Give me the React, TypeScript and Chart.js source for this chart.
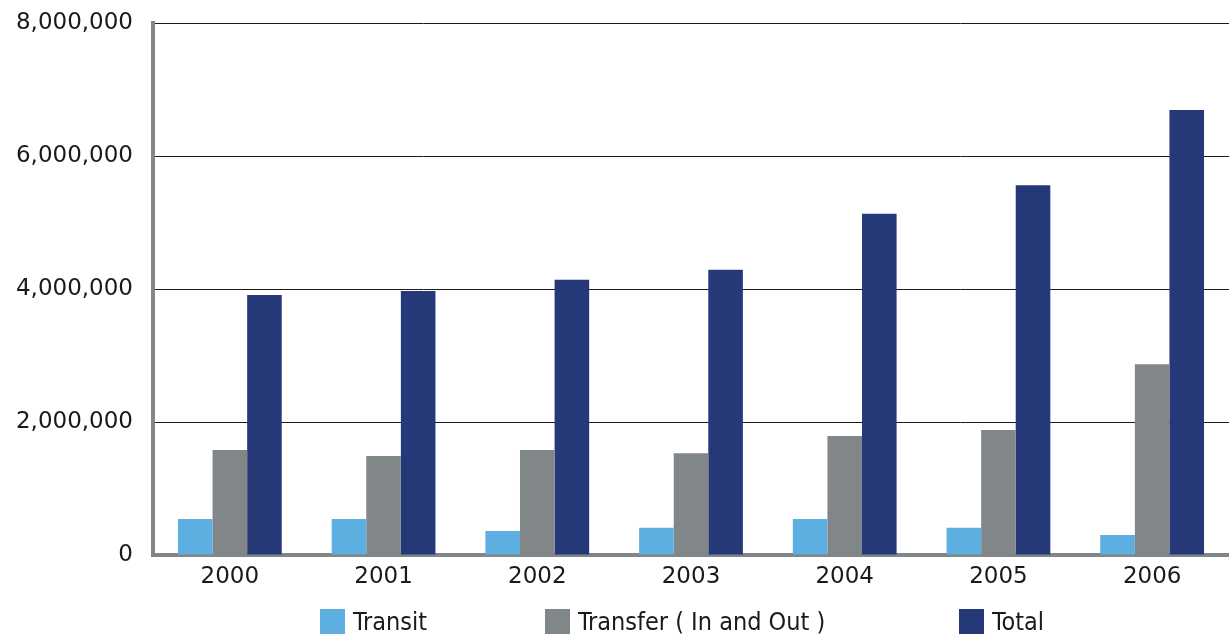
import React, { useEffect, useRef } from "react";
import { Chart, registerables } from "chart.js";

Chart.register(...registerables);

const years = ["2000", "2001", "2002", "2003", "2004", "2005", "2006"];
const transit = [540000, 540000, 360000, 410000, 540000, 410000, 300000];
const transfer = [1580000, 1490000, 1580000, 1530000, 1790000, 1880000, 2870000];
const total = [3910000, 3970000, 4140000, 4290000, 5130000, 5560000, 6690000];
const seriesNames = ["Transit", "Transfer ( In and Out )", "Total"];
const seriesColors = ["#5DAEE1", "#818688", "#253978"];
const yTicks = [0, 2000000, 4000000, 6000000, 8000000];

const W = 1229;
const H = 636;

export default function App() {
  const ref = useRef<HTMLCanvasElement | null>(null);

  useEffect(() => {
    if (!ref.current) return;
    const chart = new Chart(ref.current, {
      type: "bar",
      data: {
        labels: years,
        datasets: [transit, transfer, total].map((d, i) => ({
          label: seriesNames[i],
          data: d,
          backgroundColor: seriesColors[i],
          borderWidth: 0,
          categoryPercentage: 0.675,
          barPercentage: 1,
        })),
      },
      options: {
        responsive: false,
        animation: false,
        devicePixelRatio: 1,
        layout: { padding: { top: 23, right: 0, left: 0, bottom: 0 } },
        plugins: { legend: { display: false }, tooltip: { enabled: false } },
        scales: {
          x: {
            grid: { display: false, drawTicks: false },
            border: { display: true, color: "#818688", width: 4 },
            ticks: {
              color: "#1a1a1a",
              font: { family: "DejaVu Sans", size: 23 },
              padding: 8,
            },
            afterFit: (s: any) => {
              s.height = 81;
            },
          },
          y: {
            min: 0,
            max: 8000000,
            afterBuildTicks: (s: any) => {
              s.ticks = yTicks.map((v) => ({ value: v }));
            },
            grid: { color: "#1a1a1a", lineWidth: 1, drawTicks: false },
            border: { display: true, color: "#818688", width: 4 },
            ticks: {
              color: "#1a1a1a",
              font: { family: "DejaVu Sans", size: 23 },
              padding: 20,
              callback: (v: any) => Number(v).toLocaleString("en-US"),
            },
            afterFit: (s: any) => {
              s.width = 153;
              s.paddingTop = 0;
              s.paddingBottom = 0;
            },
          },
        },
      },
    });
    return () => chart.destroy();
  }, []);

  const legendX = [320, 545, 959];

  return (
    <div style={{ position: "fixed", left: 0, top: 0, width: W, height: H, background: "#fff" }}>
      <canvas ref={ref} width={W} height={H} style={{ display: "block", width: W, height: H }} />
      {seriesNames.map((n, i) => (
        <div
          key={n}
          style={{
            position: "absolute",
            left: legendX[i],
            top: 607,
            display: "flex",
            alignItems: "center",
            fontFamily: "'DejaVu Sans Condensed', 'Liberation Sans Narrow', sans-serif",
            fontSize: 25,
            color: "#1a1a1a",
            whiteSpace: "nowrap",
          }}
        >
          <span
            style={{
              display: "inline-block",
              width: 25,
              height: 25,
              background: seriesColors[i],
              marginRight: 8,
            }}
          />
          <span>{n}</span>
        </div>
      ))}
    </div>
  );
}
